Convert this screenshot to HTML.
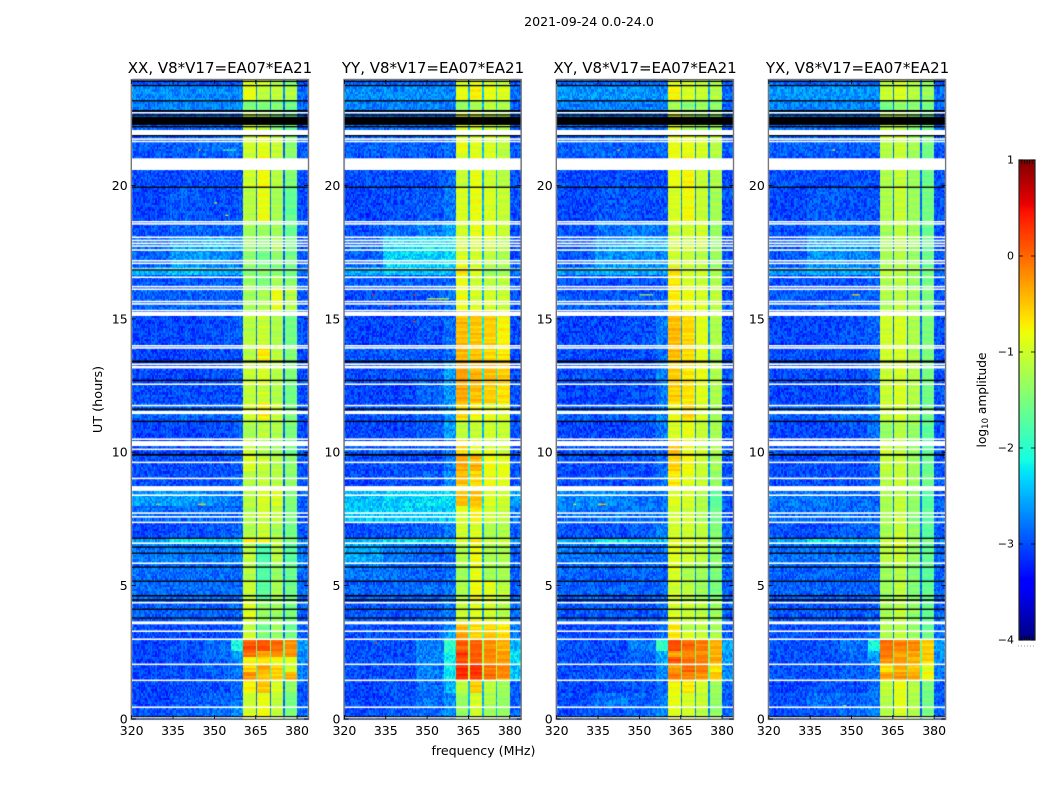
<!DOCTYPE html>
<html lang="en">
<head>
<meta charset="utf-8">
<title>2021-09-24 0.0-24.0</title>
<style>
html,body{margin:0;padding:0;background:#fff;}
#figure{position:relative;width:1050px;height:800px;overflow:hidden;background:#fff;}
canvas{position:absolute;top:0;}
svg{position:absolute;left:0;top:0;}
text{font-family:"DejaVu Sans","Liberation Sans",sans-serif;fill:#000;}
</style>
</head>
<body>
<div id="figure">
<canvas id="hm0"></canvas>
<canvas id="hm1"></canvas>
<canvas id="hm2"></canvas>
<canvas id="hm3"></canvas>
<canvas id="cbar"></canvas>
<svg id="overlay" width="1050" height="800" viewBox="0 0 1050 800">
<text x="589" y="26" text-anchor="middle" font-size="12.6">2021-09-24 0.0-24.0</text>
<text x="220" y="73" text-anchor="middle" font-size="15">XX, V8*V17=EA07*EA21</text>
<text x="433" y="73" text-anchor="middle" font-size="15">YY, V8*V17=EA07*EA21</text>
<text x="645" y="73" text-anchor="middle" font-size="15">XY, V8*V17=EA07*EA21</text>
<text x="857.5" y="73" text-anchor="middle" font-size="15">YX, V8*V17=EA07*EA21</text>
<text x="483.5" y="755" text-anchor="middle" font-size="12.6">frequency (MHz)</text>
<text transform="translate(102,399.5) rotate(-90)" text-anchor="middle" font-size="12.8">UT (hours)</text>
<text transform="translate(986,400) rotate(-90)" text-anchor="middle" font-size="12.2">log<tspan font-size="8.5" dy="2">10</tspan><tspan dy="-2"> amplitude</tspan></text>
</svg>
</div>
<script>
// Time bands (hours) shared by all panels; each spectra row covers hourEdges[i]..hourEdges[i+1].
const hourEdges=[0,.5,1,1.45,1.75,2.05,2.3,2.55,3,3.3,3.65,4.5,5.2,5.85,6.55,6.8,7.4,8,8.6,9.3,9.9,10.5,11.2,11.8,12.6,13.4,14,15.3,16.2,16.6,17,17.6,18.1,18.6,19.9,21.1,22.1,22.8,23.2,23.75,24];
// Frequency segments (MHz) and the spectra column each one reads.
const freqEdges=[320,334,346,356,360.5,364.8,365.5,369.9,370.6,374.8,375.5,380,384];
const freqColumn=[0,1,2,3,4,8,5,8,6,8,7,9];
// log10 amplitude, columns: 320-334, 334-346, 346-356, 356-360.5, sub-band 1..4, sub-band gaps, above 380.
const xxSpectra=[
[-3,-2.9,-2.85,-2.7,-.95,-.8,-1.1,-1.5,-2.7,-2.85],
[-3.05,-2.95,-2.9,-2.8,-1.05,-.85,-1.1,-1.55,-2.85,-2.95],
[-3.05,-3,-3,-2.85,-.75,-.5,-.95,-1.35,-2.85,-2.95],
[-3.05,-3,-2.95,-2.85,-.2,-.5,-.55,-.35,-2,-2.8],
[-3.05,-3,-2.9,-2.8,-.6,-.35,-.6,-1,-2,-2.8],
[-3.05,-3,-2.9,-2.75,-.75,-.7,-.8,-.9,-1.7,-2.7],
[-3.05,-3,-2.85,-2.6,-.05,-.25,-.2,-.25,-1.6,-2.7],
[-3.05,-3,-2.85,-2.1,.1,.1,0,-.2,-1.5,-2.6],
[-3,-3,-3,-2.9,-1,-1.5,-1.35,-1.55,-2.8,-2.9],
[-3,-3,-3,-2.9,-1.1,-1.6,-1.3,-1.6,-2.85,-2.9],
[-2.9,-2.9,-2.9,-2.85,-.9,-1.35,-1.3,-1.5,-2.8,-2.9],
[-2.85,-2.85,-2.85,-2.85,-1.05,-1.7,-1.25,-1.55,-2.8,-2.85],
[-2.85,-2.85,-2.85,-2.85,-1.15,-1.75,-1.35,-1.6,-2.8,-2.85],
[-2.8,-2.8,-2.8,-2.8,-1.1,-1.8,-1.15,-1.7,-2.8,-2.8],
[-2.6,-2.2,-2.3,-2.3,-.7,-.8,-1.1,-1.4,-2.5,-2.7],
[-3.05,-3,-2.95,-2.9,-1.2,-1.05,-1.25,-1.55,-2.85,-2.95],
[-2.85,-2.85,-2.85,-2.85,-1.2,-1,-1.1,-1.5,-2.85,-2.95],
[-2.6,-2.6,-2.7,-2.8,-1.15,-.95,-.95,-1.45,-2.85,-2.9],
[-3,-3,-3,-2.9,-1.15,-1.1,-1.15,-1.4,-2.85,-2.95],
[-3,-3,-3,-2.9,-.95,-1.05,-1.15,-1.4,-2.85,-2.95],
[-3.05,-3.05,-3,-2.9,-1,-1.2,-1.3,-1.55,-2.85,-3],
[-3.05,-3.05,-3,-2.95,-1.25,-1.1,-1.2,-1.5,-2.85,-3],
[-2.9,-2.9,-2.9,-2.85,-1,-.75,-1.05,-1.5,-2.85,-2.95],
[-3,-3,-3,-2.95,-1.1,-1.05,-1.2,-1.55,-2.85,-3],
[-3.05,-3.05,-3,-2.95,-1.05,-.95,-1.15,-1.5,-2.85,-3],
[-3.05,-3.05,-3,-2.95,-1.15,-.7,-1.1,-1.45,-2.85,-3],
[-3.05,-3.05,-3,-2.95,-1.15,-1.05,-1.2,-1.55,-2.85,-3],
[-2.9,-2.9,-2.9,-2.9,-1.3,-1.2,-.85,-1.15,-2.8,-2.95],
[-2.95,-2.95,-2.9,-2.9,-1.3,-1.5,-1.25,-1.4,-2.8,-2.95],
[-2.5,-2.4,-2.5,-2.5,-1.5,-1.4,-1.5,-1.6,-2.7,-2.8],
[-2.9,-2.6,-2.65,-2.8,-1.4,-1.55,-1.4,-1.55,-2.85,-2.95],
[-2.85,-2.6,-2.5,-2.6,-1.3,-1.45,-1.2,-1.55,-2.85,-2.95],
[-3,-2.9,-2.9,-2.9,-1.3,-1.3,-1.3,-1.6,-2.85,-2.95],
[-3.05,-2.95,-3,-3,-1.15,-.85,-1.25,-1.65,-2.85,-3],
[-3,-3,-3,-3,-1,-.8,-1.15,-1.45,-2.85,-3],
[-2.95,-2.9,-2.85,-2.85,-1,-.9,-1.05,-1.4,-2.85,-2.95],
[-2.9,-2.9,-2.85,-2.85,-1,-1.2,-1.5,-1.6,-2.85,-2.95],
[-2.8,-2.75,-2.75,-2.75,-1.5,-1.5,-1.45,-1.6,-2.85,-2.9],
[-2.7,-2.7,-2.7,-2.75,-.85,-1.1,-1.1,-1.15,-2.7,-2.85],
[-3,-3,-3,-3,-.9,-1,-1.2,-1.5,-2.85,-3]];
const yySpectra=[
[-3,-2.95,-2.85,-2.7,-1.35,-1,-1.25,-1.35,-2.5,-2.9],
[-3.05,-3,-2.85,-2.7,-1.35,-.95,-1.2,-1.35,-2.5,-2.9],
[-3.05,-3,-2.85,-2.5,-1.1,-.55,-1.1,-1.3,-2.5,-2.9],
[-3,-3,-2.75,-2.2,.3,.25,-.05,-.2,-1.2,-2.4],
[-3,-3,-2.75,-2.2,.35,.3,-.05,-.15,-1.2,-2.4],
[-3,-3,-2.75,-2.2,.1,.1,-.2,-.3,-1.2,-2.3],
[-3,-3,-2.75,-2.1,.25,.05,-.15,-.25,-1.2,-2.3],
[-3,-3,-2.75,-2,.05,.05,-.2,-.4,-1.2,-2.5],
[-3,-3,-2.95,-2.6,-.3,-.55,-.5,-.6,-1.8,-2.8],
[-3,-3,-3,-2.7,-.45,-.6,-.6,-.7,-1.9,-2.8],
[-2.95,-2.95,-2.9,-2.8,-1.05,-.9,-.95,-1.15,-2.5,-2.85],
[-2.9,-2.9,-2.85,-2.8,-1.2,-.8,-.9,-1.1,-2.5,-2.9],
[-2.8,-2.85,-2.9,-2.85,-1.3,-.85,-1.25,-1.25,-2.5,-2.9],
[-2.55,-2.8,-2.9,-2.85,-1.15,-.8,-1.2,-1.2,-2.5,-2.9],
[-2.5,-2.3,-2.3,-2.3,-.9,-.7,-1,-1,-2.2,-2.7],
[-3,-2.95,-2.9,-2.8,-1,-.95,-1.2,-1.2,-2.5,-2.95],
[-2.4,-2.4,-2.4,-2.4,-.9,-.7,-1,-1.1,-2.2,-2.8],
[-2.45,-2.35,-2.3,-2.3,-.45,-.45,-.95,-1,-2.2,-2.6],
[-3.05,-3,-2.95,-2.7,-.45,-.6,-.8,-.85,-2.2,-2.95],
[-3,-3,-3,-2.8,-.35,-.4,-.8,-.85,-2.2,-2.95],
[-2.95,-2.95,-2.95,-2.85,-.6,-.9,-.9,-1,-2.4,-3],
[-3.05,-3.05,-2.95,-2.6,-1.1,-1.05,-1,-1.05,-2.5,-3],
[-3,-3,-2.9,-2.7,-.6,-.8,-.85,-.9,-2.4,-3],
[-3.05,-3.05,-2.9,-2.65,-.35,-.45,-.55,-.65,-2.2,-3],
[-3,-3,-2.9,-2.6,-.3,-.4,-.45,-.55,-2.2,-3],
[-2.95,-2.95,-2.95,-2.85,-.4,-.5,-.6,-.7,-2.2,-3],
[-3.05,-3.05,-3,-2.85,-.45,-.5,-.55,-.75,-2.2,-3],
[-3,-3,-2.95,-2.85,-.85,-.95,-.95,-1.05,-2.5,-3],
[-2.95,-2.95,-2.95,-2.9,-.85,-1,-1.1,-1.1,-2.5,-3],
[-2.5,-2.35,-2.4,-2.5,-.65,-.9,-1.3,-1.3,-2.4,-2.8],
[-2.9,-2.35,-2.35,-2.3,-.95,-1,-1.1,-1.2,-2.5,-3],
[-2.9,-2.35,-2.25,-2.25,-1,-1,-.95,-1.15,-2.5,-3],
[-3,-2.85,-2.75,-2.6,-1,-.85,-.9,-1.05,-2.5,-3],
[-3.05,-3,-2.95,-2.8,-.95,-.85,-.95,-1.05,-2.5,-3],
[-3,-3,-3,-2.9,-1.05,-.85,-1,-1.15,-2.5,-3],
[-2.9,-2.9,-2.9,-2.85,-.85,-.9,-.95,-1.1,-2.5,-2.95],
[-2.85,-2.85,-2.85,-2.85,-.95,-.9,-1.05,-1.15,-2.5,-2.95],
[-2.75,-2.75,-2.75,-2.75,-1.35,-1.2,-1.1,-1.2,-2.5,-2.9],
[-2.7,-2.7,-2.7,-2.7,-.85,-.75,-.85,-.95,-2.4,-2.85],
[-2.9,-2.9,-2.9,-2.9,-.95,-.85,-1,-1.05,-2.5,-3]];
const xySpectra=[
[-3,-2.95,-2.85,-2.75,-.9,-1,-1.1,-1.35,-2.7,-2.9],
[-3,-2.8,-2.9,-2.8,-.85,-.95,-1.05,-1.35,-2.7,-2.9],
[-3.05,-3,-3,-2.85,-.8,-.7,-1,-1.3,-2.7,-2.9],
[-3,-3,-2.95,-2.7,-.1,-.15,-.2,-.5,-1.6,-2.7],
[-3,-3,-2.95,-2.7,-.3,0,-.1,-.7,-1.6,-2.7],
[-3,-3,-2.9,-2.6,.1,-.05,-.1,-.3,-1.5,-2.6],
[-3,-3,-2.9,-2.5,-.3,-.2,-.2,-.4,-1.5,-2.6],
[-3,-3,-2.8,-2,.15,0,-.1,-.4,-1.4,-2.6],
[-3,-3,-3,-2.8,-.7,-.9,-1.05,-1.2,-2.6,-2.9],
[-3,-3,-3,-2.85,-.65,-1.2,-1.1,-1.3,-2.7,-2.9],
[-2.95,-2.95,-2.95,-2.9,-.95,-1.05,-1.15,-1.3,-2.7,-2.9],
[-2.9,-2.9,-2.9,-2.9,-1,-1.1,-1.3,-1.5,-2.7,-2.9],
[-2.9,-2.9,-2.9,-2.9,-.95,-1.2,-1.3,-1.5,-2.7,-2.9],
[-2.8,-2.85,-2.85,-2.85,-.9,-1,-1.1,-1.4,-2.7,-2.9],
[-2.6,-2.2,-2.4,-2.4,-.8,-.9,-1,-1.4,-2.6,-2.8],
[-3,-3,-2.95,-2.8,-1,-1,-1.1,-1.45,-2.7,-2.95],
[-2.8,-2.8,-2.8,-2.8,-1,-1,-1.2,-1.6,-2.7,-2.95],
[-2.7,-2.7,-2.8,-2.85,-.9,-.95,-1.2,-1.7,-2.7,-2.95],
[-3,-3,-3,-2.85,-.7,-.9,-1.05,-1.35,-2.6,-2.95],
[-3,-3,-3,-2.85,-.55,-.75,-1.05,-1.25,-2.6,-3],
[-3,-3,-3,-2.9,-.5,-.85,-1,-1.2,-2.6,-3],
[-3.05,-3.05,-3,-2.8,-.95,-.85,-1.05,-1.25,-2.7,-3],
[-2.95,-2.95,-2.9,-2.75,-.85,-.6,-.95,-1.3,-2.6,-3],
[-3.05,-3.05,-3,-2.8,-.55,-.65,-.9,-1.2,-2.6,-3],
[-3,-3,-3,-2.8,-.55,-.65,-.85,-1.2,-2.6,-3],
[-3,-3,-3,-2.85,-.45,-.6,-.9,-1.2,-2.6,-3],
[-3.05,-3.05,-3,-2.8,-.45,-.6,-.9,-1.2,-2.6,-3],
[-2.95,-2.95,-2.95,-2.9,-.7,-.85,-.95,-1.1,-2.6,-3],
[-3,-3,-3,-2.95,-.7,-.95,-1.05,-1.2,-2.6,-3],
[-2.6,-2.5,-2.5,-2.6,-.65,-1,-1,-1.2,-2.5,-2.85],
[-2.95,-2.65,-2.65,-2.75,-1,-1.05,-1.15,-1.3,-2.7,-3],
[-2.95,-2.6,-2.5,-2.55,-1,-1.05,-1,-1.35,-2.7,-3],
[-3,-2.85,-2.8,-2.85,-1.05,-1,-1,-1.35,-2.7,-3],
[-3.05,-2.95,-3,-3,-.95,-.8,-1.05,-1.25,-2.7,-3],
[-3,-3,-3,-3,-.85,-.75,-1.05,-1.2,-2.7,-3],
[-2.9,-2.9,-2.9,-2.9,-.85,-.85,-.95,-1.15,-2.7,-2.95],
[-2.85,-2.85,-2.85,-2.85,-.85,-1.2,-1.3,-1.3,-2.7,-2.95],
[-2.75,-2.75,-2.75,-2.75,-1.3,-1.4,-1.3,-1.4,-2.7,-2.9],
[-2.65,-2.65,-2.65,-2.7,-.75,-.95,-1.05,-1.15,-2.6,-2.85],
[-2.9,-2.9,-2.9,-2.9,-.85,-1,-1.05,-1.2,-2.7,-3]];
const yxSpectra=[
[-3,-2.95,-2.85,-2.75,-1.15,-.95,-1.2,-1.5,-2.85,-2.9],
[-3,-2.85,-2.9,-2.8,-1.15,-.9,-1.2,-1.55,-2.85,-2.95],
[-3.05,-3,-3,-2.85,-1.1,-.85,-1.15,-1.5,-2.85,-2.95],
[-3,-3,-2.95,-2.8,-.3,-.25,-.35,-.8,-1.9,-2.8],
[-3,-3,-2.95,-2.8,-.7,-.4,-.5,-.9,-1.9,-2.8],
[-3,-3,-2.9,-2.7,-.2,-.25,-.4,-.55,-1.6,-2.7],
[-3,-3,-2.9,-2.6,-.1,-.35,-.3,-.55,-1.6,-2.7],
[-3,-3,-2.85,-2.1,-.05,-.1,-.2,-.55,-1.5,-2.6],
[-3,-3,-3,-2.85,-1.2,-1.1,-1.3,-1.6,-2.85,-2.9],
[-3,-3,-3,-2.9,-1.2,-1.15,-1.35,-1.6,-2.85,-2.9],
[-2.95,-2.95,-2.95,-2.9,-1.25,-1.1,-1.35,-1.65,-2.85,-2.9],
[-2.9,-2.9,-2.9,-2.9,-1.3,-1.1,-1.45,-1.65,-2.85,-2.9],
[-2.9,-2.9,-2.9,-2.9,-1.3,-1.15,-1.45,-1.7,-2.85,-2.9],
[-2.85,-2.85,-2.85,-2.85,-1.15,-1,-1.35,-1.65,-2.85,-2.9],
[-2.6,-2.25,-2.45,-2.45,-1,-.9,-1.3,-1.6,-2.75,-2.8],
[-3,-3,-2.95,-2.85,-1.25,-1.05,-1.35,-1.7,-2.85,-2.95],
[-2.85,-2.85,-2.85,-2.85,-1.25,-1.05,-1.4,-1.7,-2.85,-2.95],
[-2.8,-2.8,-2.85,-2.9,-1.2,-1.1,-1.35,-1.75,-2.85,-2.95],
[-3,-3,-3,-2.9,-1.15,-1,-1.3,-1.6,-2.85,-2.95],
[-3,-3,-3,-2.9,-1.1,-1.05,-1.3,-1.6,-2.85,-3],
[-3,-3,-3,-2.95,-1,-1.1,-1.35,-1.65,-2.85,-3],
[-3.05,-3.05,-3,-2.85,-1.35,-1.15,-1.35,-1.7,-2.85,-3],
[-2.95,-2.95,-2.9,-2.8,-1.05,-.95,-1.25,-1.6,-2.85,-3],
[-3.05,-3.05,-3,-2.9,-1.05,-.95,-1.15,-1.55,-2.85,-3],
[-3,-3,-3,-2.85,-1.05,-.95,-1.15,-1.55,-2.85,-3],
[-3,-3,-3,-2.9,-1,-.95,-1.2,-1.5,-2.85,-3],
[-3.05,-3.05,-3,-2.9,-1,-.95,-1.2,-1.5,-2.85,-3],
[-2.95,-2.95,-2.95,-2.9,-1.2,-1.1,-1.3,-1.5,-2.85,-3],
[-3,-3,-3,-2.95,-1.2,-1.15,-1.35,-1.55,-2.85,-3],
[-2.65,-2.55,-2.55,-2.6,-1.1,-1.1,-1.3,-1.5,-2.75,-2.85],
[-2.95,-2.65,-2.7,-2.8,-1.25,-1.15,-1.35,-1.6,-2.85,-3],
[-2.95,-2.6,-2.6,-2.65,-1.25,-1.15,-1.3,-1.6,-2.85,-3],
[-3,-2.85,-2.85,-2.9,-1.25,-1.1,-1.3,-1.6,-2.85,-3],
[-3.05,-2.95,-3,-3,-1.2,-1.05,-1.3,-1.55,-2.85,-3],
[-3,-3,-3,-3,-1.2,-1.05,-1.3,-1.6,-2.85,-3],
[-2.9,-2.9,-2.9,-2.9,-1.15,-1.05,-1.25,-1.55,-2.85,-2.95],
[-2.85,-2.85,-2.85,-2.85,-1.15,-1.15,-1.4,-1.6,-2.85,-2.95],
[-2.75,-2.75,-2.75,-2.75,-1.55,-1.4,-1.4,-1.55,-2.85,-2.9],
[-2.65,-2.65,-2.65,-2.7,-1.05,-.95,-1.15,-1.3,-2.75,-2.85],
[-2.9,-2.9,-2.9,-2.9,-1.1,-1,-1.2,-1.4,-2.85,-3]];
const panelSpectra=[xxSpectra,yySpectra,xySpectra,yxSpectra];
// Flagged time ranges (hours): blank (white) and zeroed (black), common to all panels.
const whiteFlags=[[.03,.09],[.41,.47],[1.42,1.48],[2.02,2.08],[2.96,3.02],[3.26,3.32],[3.55,3.66],[4.33,4.39],[5.81,5.87],[6.56,6.62],[7.34,7.4],[7.55,7.61],[7.69,7.75],[8.36,8.42],[8.55,8.73],[8.99,9.05],[9.59,9.65],[10.08,10.14],[10.23,10.42],[10.46,10.52],[11.43,11.55],[11.72,11.78],[12.52,12.58],[13.14,13.24],[13.27,13.33],[13.88,13.94],[13.96,14.02],[15.11,15.26],[15.28,15.34],[15.53,15.59],[15.62,15.68],[16.08,16.14],[16.18,16.24],[16.53,16.59],[16.83,16.89],[17.05,17.11],[17.15,17.21],[17.55,17.61],[17.7,17.76],[17.8,17.86],[17.91,17.97],[18.03,18.09],[18.53,18.59],[18.61,18.67],[20.58,21.02],[21.62,21.68],[21.71,21.77],[21.89,22.08],[22.7,22.76]];
const blackFlags=[[.07,.11],[3.76,3.81],[4.09,4.14],[4.43,4.49],[4.59,4.65],[5.14,5.19],[5.67,5.72],[6.19,6.24],[6.42,6.47],[6.75,6.8],[9.87,9.94],[11.13,11.18],[11.59,11.64],[12.67,12.72],[13.36,13.44],[16.81,16.86],[19.91,19.96],[21.84,21.89],[22.18,22.23],[22.27,22.58],[22.62,22.67],[22.76,22.83],[23.15,23.2],[23.72,23.77],[23.88,23.93]];
// Narrow-band interference: panel, start MHz, end MHz, hour, log10 amplitude.
const rfiHits=[
[0,344,345,21.33,-.6],[0,353,358,21.33,-1.8],[0,329,330,8.05,-.6],[0,344,347,8.05,-.5],[0,354,355,18.88,-.7],[0,350,351,19.35,-.9],
[1,330,331,15.9,.2],[1,345,346,15.9,.3],[1,350,358,15.75,-.9],[1,336,337,15.5,.3],[1,331,332,2.85,.1],[1,345,346,14.9,.2],
[2,326,327,8.05,-1],[2,335,338,8.05,-.5],[2,342,343,21.33,-.5],[2,350,355,15.9,-1.2],[2,352,358,15.55,-1],[2,330,338,15.55,-1.4],
[3,343,344,21.33,-.8],[3,350,353,15.9,-.6],[3,335,340,15.55,-1.2],[3,347,348,.5,-1.2]];
// Pixel-level noise texture estimated from the background grain, in units of local scatter.
const speckle=[.9,-.6,.2,-1,.5,.1,-.3,.8,-.9,.4,-.2,1,-.7,.3,-.5,.6,-.1,-.8,.7,.2,-1,.4,.9,-.4,.1,-.6,.5,-.2,.8,-.9,.3,-.3,.6,-.7,1,-.1,.2,-.5,.7,-.8,.4,-.2,.9,-.6,.1,-1,.5,.3,-.4,.8,-.1,-.7,.6];
// Horizontal striping seen inside the sub-bands, in units of local scatter.
const bandStripes=[.3,-.5,.1,.8,-.2,-.7,.4,.2,-1,.6,.1,-.3,.9,-.4,-.1,.5,-.8,.2,.7,-.6,.3,-.2,1,-.5,.1,-.9,.4,.6,-.3,-.1,.2];
// Axis ticks.
const xTickValues=[320,335,350,365,380];
const yTickValues=[0,5,10,15,20];
const colorbarTickValues=[1,0,-1,-2,-3,-4];

const panelLeft=[131.7,344.4,556.7,768.8];
const panelWidth=176.4;
const panelTop=80, panelBottom=719;
const freqMin=320, freqMax=384, hourMax=23.955;
const valueMin=-4, valueMax=1;
const channelWidth=0.5, rowHours=0.08;
const cbarX=1019, cbarW=16, cbarTop=160, cbarBottom=640;

function xScale(p,mhz){return panelLeft[p]+(mhz-freqMin)/(freqMax-freqMin)*panelWidth;}
function yScale(hour){return panelBottom-hour/hourMax*(panelBottom-panelTop);}
function cbarScale(v){return cbarTop+(valueMax-v)/(valueMax-valueMin)*(cbarBottom-cbarTop);}
function clamp01(x){return Math.max(0,Math.min(1,x));}
function jet(v){
  const t=clamp01((v-valueMin)/(valueMax-valueMin));
  const r=clamp01(Math.min((t-.35)/.31,1,(1.0-.5*((t-.89)/.11)*(t>.89?1:0))));
  const g=clamp01(Math.min((t-.125)/.25,1,(.91-t)/.27));
  const b=clamp01(Math.min(.5+t/.11*.5,1,(.65-t)/.31));
  return 'rgb('+Math.round(r*255)+','+Math.round(g*255)+','+Math.round(b*255)+')';
}
function findIndex(edges,value){
  for(let i=0;i<edges.length-1;i++){if(value<edges[i+1])return i;}
  return edges.length-2;
}
function drawPanel(p){
  const canvas=document.getElementById('hm'+p);
  const left=Math.floor(panelLeft[p]);
  const width=Math.ceil(panelWidth)+1;
  canvas.width=width;
  canvas.height=panelBottom;
  canvas.style.left=left+'px';
  const ctx=canvas.getContext('2d');
  const spectra=panelSpectra[p];
  ctx.translate(-left,0);
  const nRows=Math.ceil(hourMax/rowHours);
  const nChannels=Math.round((freqMax-freqMin)/channelWidth);
  for(let r=0;r<nRows;r++){
    const hour=r*rowHours;
    const row=spectra[findIndex(hourEdges,hour+rowHours/2)];
    const y0=Math.round(yScale(hour+rowHours));
    const y1=Math.round(yScale(hour));
    for(let c=0;c<nChannels;c++){
      const mhz=freqMin+c*channelWidth;
      const col=freqColumn[findIndex(freqEdges,mhz+channelWidth/2)];
      const inBand=col>=4&&col<=7;
      const grain=inBand?.04:(col===8?.15:.27);
      let value=row[col]+speckle[(c*c*3+r*r*7+c*r+p*13)%speckle.length]*grain;
      if(inBand){value+=bandStripes[(r+col*5+p*3)%bandStripes.length]*.13;}
      ctx.fillStyle=jet(value);
      const x0=Math.round(xScale(p,mhz));
      const x1=Math.round(xScale(p,mhz+channelWidth));
      ctx.fillRect(x0,y0,x1-x0,y1-y0);
    }
  }
  rfiHits.forEach(function(hit){
    if(hit[0]!==p)return;
    ctx.fillStyle=jet(hit[4]);
    ctx.fillRect(xScale(p,hit[1]),yScale(hit[3])-.6,xScale(p,hit[2])-xScale(p,hit[1]),1.2);
  });
  ctx.fillStyle='#fff';
  whiteFlags.forEach(function(f){
    ctx.fillRect(panelLeft[p],yScale(f[1]),panelWidth,yScale(f[0])-yScale(f[1]));
  });
  ctx.fillStyle='#000';
  blackFlags.forEach(function(f){
    ctx.fillRect(panelLeft[p],yScale(f[1]),panelWidth,yScale(f[0])-yScale(f[1]));
  });
}
[0,1,2,3].forEach(drawPanel);

function drawColorbar(){
  const canvas=document.getElementById('cbar');
  canvas.width=cbarW;
  canvas.height=cbarBottom-cbarTop;
  canvas.style.left=cbarX+'px';
  canvas.style.top=cbarTop+'px';
  const ctx=canvas.getContext('2d');
  for(let i=0;i<canvas.height;i++){
    ctx.fillStyle=jet(valueMax-(i+.5)/canvas.height*(valueMax-valueMin));
    ctx.fillRect(0,i,cbarW,1);
  }
}
drawColorbar();

const svgNS='http://www.w3.org/2000/svg';
const overlay=document.getElementById('overlay');
function makeLine(x1,y1,x2,y2,color,width){
  const el=document.createElementNS(svgNS,'line');
  el.setAttribute('x1',x1);
  el.setAttribute('y1',y1);
  el.setAttribute('x2',x2);
  el.setAttribute('y2',y2);
  el.setAttribute('stroke',color);
  el.setAttribute('stroke-width',width);
  overlay.appendChild(el);
  return el;
}
function makeText(x,y,anchor,size,content){
  const el=document.createElementNS(svgNS,'text');
  el.setAttribute('x',x);
  el.setAttribute('y',y);
  el.setAttribute('text-anchor',anchor);
  el.setAttribute('font-size',size);
  el.textContent=content;
  overlay.appendChild(el);
  return el;
}
function minusSign(v){return String(v).replace('-','\u2212');}

panelLeft.forEach(function(left,p){
  const frame=document.createElementNS(svgNS,'rect');
  frame.setAttribute('x',left-.4);
  frame.setAttribute('y',panelTop-.4);
  frame.setAttribute('width',panelWidth+.8);
  frame.setAttribute('height',panelBottom-panelTop+.8);
  frame.setAttribute('fill','none');
  frame.setAttribute('stroke','#777');
  frame.setAttribute('stroke-width','1.4');
  
  
  overlay.appendChild(frame);
  xTickValues.forEach(function(v){
    const x=xScale(p,v);
    const bottomTick=makeLine(x,panelBottom,x,panelBottom-4,'#000',.8);
    
    
    const topTick=makeLine(x,panelTop,x,panelTop+4,'#000',.8);
    
    
    const label=makeText(x,735,'middle',12.5,String(v));
    
    
  });
  yTickValues.forEach(function(v){
    const y=yScale(v);
    const leftTick=makeLine(left,y,left+4,y,'#000',.8);
    
    
    const rightTick=makeLine(left+panelWidth,y,left+panelWidth-4,y,'#000',.8);
    
    
    const label=makeText(left-4,y+4.5,'end',12.5,String(v));
    
    
  });
});

const cbFrame=document.createElementNS(svgNS,'rect');
cbFrame.setAttribute('x',cbarX);
cbFrame.setAttribute('y',cbarTop);
cbFrame.setAttribute('width',cbarW);
cbFrame.setAttribute('height',cbarBottom-cbarTop);
cbFrame.setAttribute('fill','none');
cbFrame.setAttribute('stroke','#222');
cbFrame.setAttribute('stroke-width','1.2');


overlay.appendChild(cbFrame);
colorbarTickValues.forEach(function(v){
  const y=cbarScale(v);
  const l=makeLine(cbarX,y,cbarX+4,y,'#000',.8);
  
  
  const r=makeLine(cbarX+cbarW,y,cbarX+cbarW-4,y,'#000',.8);
  
  
  const label=makeText(cbarX-5,y+3.5,'end',11,minusSign(v));
  
  
});
for(let i=1;i<=5;i++){
  const x=cbarX+i*cbarW/6;
  const a=makeLine(x,cbarTop,x,cbarTop+4,'#000',.7);
  
  
  const b=makeLine(x,cbarBottom,x,cbarBottom-4,'#000',.7);
  
  
}
const dots=makeLine(cbarX-1,646,cbarX+cbarW,646,'#999',1);
dots.setAttribute('stroke-dasharray','1 2');


</script>
</body>
</html>
